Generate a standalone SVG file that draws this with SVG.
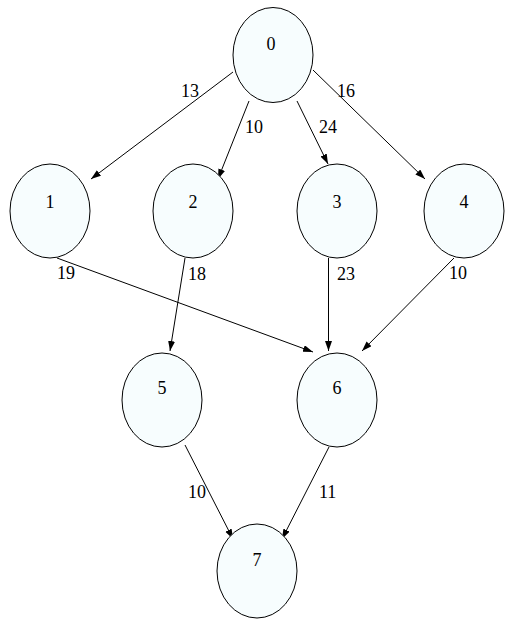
<svg xmlns="http://www.w3.org/2000/svg" width="511" height="622" viewBox="0 0 511 622">
<style>
.node ellipse{fill:#f7fdfe;stroke:#000;stroke-width:1}
.edges line{stroke:#000;stroke-width:1;marker-end:url(#arr)}
</style>
<defs>
<marker id="arr" markerUnits="userSpaceOnUse" markerWidth="10" markerHeight="8" refX="10" refY="3.5" orient="auto">
<path d="M0,0 L10,3.5 L0,7 z" fill="#000"/>
</marker>
</defs>
<rect width="511" height="622" fill="#fff"/>
<g id="edges" class="edges">
<line x1="233" y1="72" x2="91" y2="179"/>
<line x1="249" y1="101" x2="218" y2="179"/>
<line x1="297" y1="101" x2="328" y2="164"/>
<line x1="313" y1="70" x2="425" y2="179"/>
<line x1="57" y1="258" x2="313" y2="352"/>
<line x1="185" y1="258" x2="170" y2="351"/>
<line x1="328.5" y1="258" x2="328.5" y2="351"/>
<line x1="454" y1="258" x2="362" y2="351"/>
<line x1="185" y1="445" x2="233" y2="539"/>
<line x1="329" y1="447" x2="282" y2="539"/>
<g font-family="Liberation Serif, Times New Roman, serif" font-size="18" fill="#000">
<text x="181" y="97">13</text>
<text x="245" y="133">10</text>
<text x="319" y="133">24</text>
<text x="337" y="97">16</text>
<text x="57" y="279">19</text>
<text x="188" y="280">18</text>
<text x="337" y="280">23</text>
<text x="449" y="279">10</text>
<text x="188" y="498">10</text>
<text x="319" y="498">11</text>
</g>
</g>
<g font-family="Liberation Serif, Times New Roman, serif" font-size="18" text-anchor="middle" fill="#000">
<g id="node0" class="node"><ellipse cx="273" cy="55" rx="40" ry="47.5"/><text x="271" y="50">0</text></g>
<g id="node1" class="node"><ellipse cx="50" cy="211" rx="40" ry="47"/><text x="50" y="208">1</text></g>
<g id="node2" class="node"><ellipse cx="193" cy="211" rx="40" ry="47"/><text x="193" y="208">2</text></g>
<g id="node3" class="node"><ellipse cx="337" cy="211" rx="40" ry="47"/><text x="337" y="208">3</text></g>
<g id="node4" class="node"><ellipse cx="464" cy="211" rx="40" ry="47"/><text x="464" y="208">4</text></g>
<g id="node5" class="node"><ellipse cx="162" cy="400" rx="40" ry="47"/><text x="162" y="394">5</text></g>
<g id="node6" class="node"><ellipse cx="337" cy="400" rx="40" ry="47"/><text x="337" y="394">6</text></g>
<g id="node7" class="node"><ellipse cx="257" cy="571" rx="40" ry="47"/><text x="257" y="566">7</text></g>
</g>
</svg>
